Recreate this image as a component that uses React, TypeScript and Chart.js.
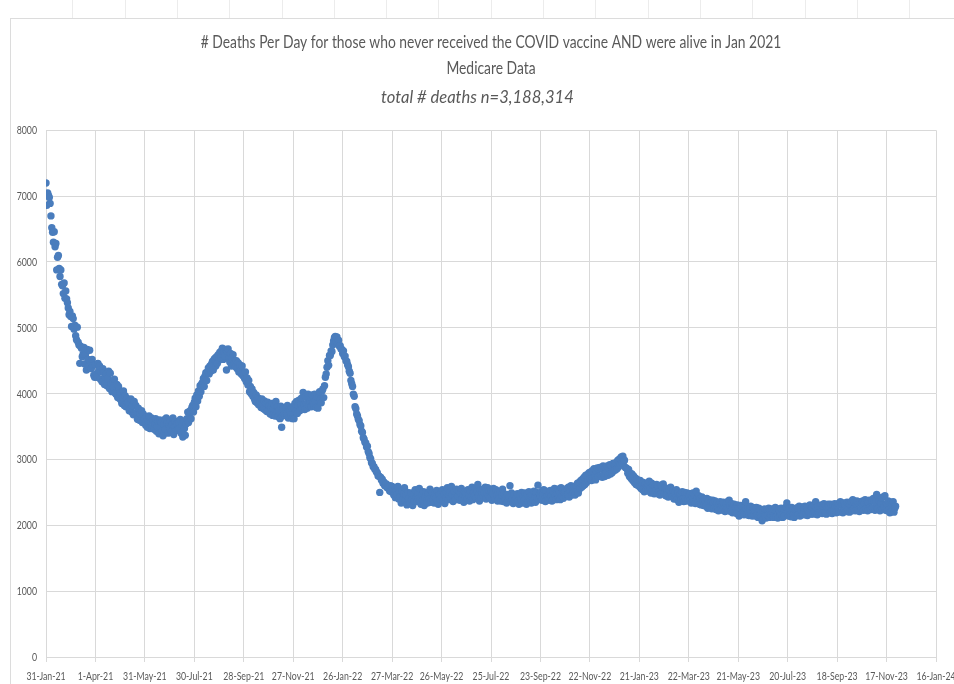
import React, { useEffect, useRef } from "react";
import { Chart, registerables } from "chart.js";

Chart.register(...registerables);

// ---- Text ----
const titleLines = [
  "# Deaths Per Day for those who never received the COVID vaccine AND were alive in Jan 2021",
  "Medicare Data",
];
const subtitleText = "total # deaths n=3,188,314";

// ---- Axes ----
// x axis: days since 31-Jan-21, a tick every 60 days
const xTickLabels = [
  "31-Jan-21", "1-Apr-21", "31-May-21", "30-Jul-21", "28-Sep-21", "27-Nov-21",
  "26-Jan-22", "27-Mar-22", "26-May-22", "25-Jul-22", "23-Sep-22", "22-Nov-22",
  "21-Jan-23", "22-Mar-23", "21-May-23", "20-Jul-23", "18-Sep-23", "17-Nov-23",
  "16-Jan-24",
];
const xTickStepDays = 60;
const yMin = 0;
const yMax = 8000;
const yStep = 1000;

// ---- Daily deaths, one value per day starting 31-Jan-21 ----
// 31-Jan-21 .. 5-Jan-22
const deathsFirstYear = [
  7200, 6860, 7050, 7010, 6980, 6890, 6700, 6520, 6450, 6300,
  6460, 6230, 6280, 5880, 6070, 6100, 5900, 5780, 5880, 5660,
  5640, 5520, 5680, 5450, 5560, 5440, 5380, 5300, 5200, 5250,
  5170, 5020, 5180, 5140, 4980, 5040, 4880, 4820, 5010, 4780,
  4740, 4460, 4720, 4690, 4560, 4600, 4700, 4450, 4600, 4360,
  4670, 4520, 4410, 4660, 4480, 4380, 4520, 4430, 4280, 4250,
  4440, 4300, 4250, 4460, 4350, 4420, 4220, 4330, 4180, 4380,
  4320, 4140, 4250, 4300, 4120, 4230, 4340, 4080, 4310, 4160,
  4030, 4180, 4090, 4220, 4010, 3990, 4140, 3940, 4110, 3930,
  4020, 3900, 3850, 3940, 4040, 3820, 3970, 3800, 3930, 3860,
  3880, 3740, 3900, 3920, 3720, 3820, 3680, 3880, 3700, 3820,
  3720, 3610, 3780, 3600, 3700, 3590, 3740, 3560, 3690, 3600,
  3620, 3520, 3650, 3490, 3590, 3660, 3470, 3580, 3630, 3480,
  3590, 3460, 3540, 3620, 3430, 3500, 3580, 3390, 3600, 3480,
  3560, 3430, 3360, 3530, 3610, 3460, 3630, 3550, 3400, 3520,
  3470, 3590, 3420, 3530, 3630, 3380, 3500, 3580, 3440, 3540,
  3450, 3560, 3470, 3610, 3400, 3520, 3340, 3580, 3470, 3370,
  3540, 3620, 3720, 3560, 3680, 3740, 3620, 3790, 3820, 3720,
  3870, 3930, 3800, 3980, 3890, 4040, 3960, 4120, 4030, 4150,
  4170, 4230, 4110, 4270, 4320, 4200, 4330, 4390, 4300, 4420,
  4340, 4450, 4490, 4360, 4520, 4540, 4420, 4560, 4460, 4590,
  4510, 4630, 4540, 4650, 4690, 4520, 4640, 4570, 4670, 4360,
  4640, 4680, 4530, 4480, 4610, 4420, 4540, 4590, 4450, 4500,
  4410, 4500, 4380, 4470, 4330, 4440, 4350, 4300, 4420, 4270,
  4300, 4230, 4330, 4180, 4240, 4130, 4200, 4030, 4110, 4000,
  4070, 3960, 4020, 3920, 3880, 3980, 3860, 3940, 3830, 3920,
  3880, 3790, 3920, 3820, 3770, 3890, 3750, 3850, 3730, 3870,
  3740, 3820, 3690, 3790, 3850, 3670, 3770, 3830, 3660, 3880,
  3720, 3800, 3650, 3740, 3620, 3810, 3490, 3660, 3780, 3690,
  3670, 3770, 3700, 3820, 3630, 3760, 3740, 3680, 3790, 3620,
  3800, 3620, 3850, 3730, 3880, 3700, 3820, 3900, 3740, 3850,
  3930, 3780, 4020, 3830, 3760, 3950, 3850, 3780, 3990, 3820,
  3890, 3950, 3800, 3980, 3860, 3810, 3990, 3880, 3790, 3950,
  3780, 3970, 4030, 3910, 3860, 4040, 4070, 3940, 4120, 4250,
];

// 6-Jan-22 .. 26-Mar-22 (Omicron wave)
const deathsOmicron = [
  4300, 4400, 4500, 4430, 4580, 4580, 4650, 4640, 4740, 4800,
  4850, 4870, 4800, 4860, 4760, 4810, 4720, 4730, 4680, 4670,
  4610, 4650, 4560, 4570, 4500, 4490, 4440, 4410, 4340, 4310,
  4200, 4150, 4110, 3990, 3960, 3800, 3770, 3690, 3660, 3610,
  3590, 3530, 3510, 3430, 3410, 3330, 3310, 3260, 3250, 3190,
  3200, 3120, 3090, 3030, 3010, 2950, 2940, 2890, 2890, 2850,
  2850, 2810, 2800, 2750, 2750, 2500, 2730, 2690, 2700, 2640,
  2660, 2600, 2620, 2630, 2570, 2580, 2590, 2520, 2600, 2510,
];

// 27-Mar-22 .. 1-Nov-22
const deathsPlateau2022 = [
  2590, 2560, 2460, 2540, 2420, 2530, 2470, 2590, 2400, 2510,
  2440, 2340, 2520, 2390, 2480, 2570, 2370, 2460, 2310, 2500,
  2400, 2350, 2330, 2490, 2390, 2300, 2460, 2370, 2540, 2420,
  2360, 2480, 2400, 2560, 2380, 2320, 2450, 2390, 2510, 2300,
  2420, 2500, 2370, 2340, 2480, 2400, 2550, 2350, 2440, 2500,
  2390, 2340, 2480, 2410, 2530, 2370, 2320, 2460, 2400, 2510,
  2430, 2540, 2380, 2480, 2330, 2420, 2500, 2570, 2390, 2450,
  2500, 2410, 2590, 2470, 2360, 2520, 2420, 2390, 2550, 2460,
  2440, 2520, 2380, 2490, 2560, 2400, 2470, 2350, 2510, 2420,
  2490, 2400, 2540, 2450, 2370, 2520, 2430, 2580, 2390, 2500,
  2450, 2560, 2410, 2520, 2620, 2460, 2370, 2540, 2420, 2500,
  2550, 2430, 2500, 2580, 2400, 2490, 2570, 2440, 2530, 2420,
  2520, 2380, 2490, 2560, 2430, 2400, 2540, 2460, 2370, 2500,
  2410, 2510, 2370, 2460, 2550, 2360, 2480, 2400, 2450, 2340,
  2470, 2380, 2430, 2600, 2360, 2490, 2400, 2330, 2460, 2390,
  2420, 2350, 2480, 2370, 2320, 2460, 2390, 2500, 2340, 2450,
  2380, 2490, 2410, 2320, 2470, 2360, 2510, 2390, 2450, 2340,
  2460, 2380, 2520, 2410, 2350, 2500, 2420, 2610, 2390, 2480,
  2430, 2510, 2380, 2470, 2540, 2400, 2360, 2520, 2440, 2380,
  2480, 2400, 2530, 2440, 2370, 2520, 2410, 2560, 2450, 2390,
  2490, 2550, 2420, 2510, 2390, 2570, 2440, 2530, 2410, 2500,
  2520, 2440, 2560, 2470, 2580, 2430, 2530, 2600, 2460, 2570,
];

// 2-Nov-22 .. 30-Mar-23 (winter wave)
const deathsWinter = [
  2500, 2590, 2460, 2600, 2510, 2640, 2490, 2650, 2560, 2680,
  2580, 2700, 2600, 2730, 2620, 2760, 2650, 2770, 2680, 2800,
  2700, 2810, 2680, 2830, 2720, 2860, 2730, 2690, 2820, 2870,
  2740, 2850, 2880, 2750, 2870, 2730, 2900, 2780, 2740, 2880,
  2790, 2900, 2760, 2870, 2920, 2780, 2910, 2800, 2940, 2830,
  2920, 2840, 2960, 2860, 2990, 2890, 3010, 2920, 3040, 2950,
  3050, 2970, 2990, 2880, 2870, 2860, 2790, 2850, 2740, 2790,
  2710, 2780, 2680, 2750, 2650, 2720, 2620, 2700, 2610, 2680,
  2590, 2680, 2560, 2640, 2540, 2650, 2510, 2630, 2530, 2610,
  2630, 2520, 2670, 2560, 2490, 2640, 2530, 2610, 2480, 2590,
  2530, 2620, 2480, 2590, 2510, 2460, 2610, 2500, 2580, 2630,
  2480, 2570, 2450, 2560, 2470, 2430, 2550, 2440, 2580, 2460,
  2440, 2530, 2400, 2510, 2420, 2540, 2390, 2490, 2350, 2470,
  2480, 2390, 2510, 2400, 2360, 2500, 2410, 2370, 2490, 2390,
  2460, 2370, 2480, 2340, 2440, 2490, 2360, 2460, 2330, 2520,
];

// 31-Mar-23 .. 28-Nov-23
const deaths2023 = [
  2420, 2340, 2450, 2320, 2410, 2310, 2430, 2380, 2300, 2400,
  2380, 2290, 2410, 2260, 2370, 2390, 2280, 2360, 2250, 2380,
  2350, 2260, 2370, 2240, 2340, 2270, 2220, 2330, 2360, 2250,
  2320, 2230, 2350, 2250, 2210, 2340, 2240, 2360, 2220, 2380,
  2300, 2210, 2330, 2190, 2290, 2320, 2200, 2280, 2180, 2310,
  2270, 2140, 2270, 2300, 2170, 2290, 2190, 2160, 2280, 2360,
  2250, 2160, 2280, 2150, 2250, 2290, 2170, 2140, 2270, 2160,
  2230, 2140, 2270, 2160, 2120, 2260, 2150, 2240, 2130, 2070,
  2230, 2130, 2250, 2140, 2110, 2240, 2150, 2260, 2120, 2230,
  2160, 2250, 2140, 2120, 2240, 2270, 2130, 2230, 2110, 2250,
  2230, 2130, 2260, 2150, 2120, 2250, 2140, 2240, 2280, 2340,
  2180, 2140, 2260, 2160, 2130, 2270, 2150, 2250, 2120, 2240,
  2250, 2150, 2270, 2160, 2290, 2140, 2260, 2170, 2280, 2160,
  2260, 2290, 2160, 2270, 2150, 2280, 2180, 2310, 2170, 2270,
  2280, 2170, 2300, 2190, 2360, 2270, 2160, 2290, 2190, 2300,
  2200, 2310, 2180, 2290, 2330, 2190, 2300, 2170, 2280, 2320,
  2290, 2190, 2320, 2210, 2180, 2310, 2200, 2330, 2290, 2190,
  2300, 2330, 2200, 2310, 2360, 2210, 2320, 2190, 2340, 2230,
  2310, 2210, 2350, 2230, 2330, 2200, 2320, 2360, 2220, 2390,
  2250, 2350, 2220, 2330, 2370, 2230, 2340, 2210, 2360, 2250,
  2330, 2370, 2230, 2340, 2390, 2250, 2360, 2220, 2350, 2380,
  2270, 2240, 2380, 2260, 2410, 2360, 2230, 2350, 2470, 2260,
  2250, 2370, 2220, 2340, 2420, 2240, 2430, 2280, 2450, 2230,
  2330, 2220, 2370, 2240, 2190, 2350, 2210, 2320, 2360, 2200,
  2260, 2290,
];

const dailyDeaths = [
  ...deathsFirstYear,
  ...deathsOmicron,
  ...deathsPlateau2022,
  ...deathsWinter,
  ...deaths2023,
];

const FONT = "Lato, 'Open Sans', sans-serif";
const TEXT_COLOR = "#595959";
const GRID_COLOR = "#d9d9d9";
const POINT_COLOR = "#4a7dbd";
const TITLE_SCALE_X = 0.77;
const SUBTITLE_SCALE_X = 0.92;
const TICK_SCALE_X = 0.73;

// Draw the chart's text horizontally condensed (the original uses a narrow font).
const condensedTextPlugin = {
  id: "condensedText",
  beforeDraw(chart: any) {
    const ctx: any = chart.ctx;
    if (ctx.__condensed) return;
    const orig = CanvasRenderingContext2D.prototype.fillText;
    ctx.fillText = function (text: string, x: number, y: number, maxWidth?: number) {
      const font: string = ctx.font;
      const m = /(\d+(?:\.\d+)?)px/.exec(font);
      const size = m ? parseFloat(m[1]) : 12;
      const sx = size < 15 ? TICK_SCALE_X : font.indexOf("italic") >= 0 ? SUBTITLE_SCALE_X : TITLE_SCALE_X;
      ctx.save();
      ctx.translate(x, y);
      ctx.scale(sx, 1);
      if (maxWidth == null) orig.call(ctx, text, 0, 0);
      else orig.call(ctx, text, 0, 0, maxWidth / sx);
      ctx.restore();
    };
    ctx.__condensed = true;
  },
};

export default function App() {
  const canvasRef = useRef<HTMLCanvasElement | null>(null);

  useEffect(() => {
    const canvas = canvasRef.current;
    if (!canvas) return;
    const points = dailyDeaths.map((v, i) => ({ x: i, y: v }));
    const xMax = (xTickLabels.length - 1) * xTickStepDays;

    const chart = new Chart(canvas, {
      type: "scatter",
      data: {
        datasets: [
          {
            data: points,
            pointRadius: 3.7,
            pointBackgroundColor: POINT_COLOR,
            pointBorderWidth: 0,
            pointHoverRadius: 3.7,
          },
        ],
      },
      plugins: [condensedTextPlugin],
      options: {
        animation: false,
        responsive: false,
        maintainAspectRatio: false,
        events: [],
        layout: { padding: { left: 0, right: 18, top: 0, bottom: 0 } },
        plugins: {
          legend: { display: false },
          tooltip: { enabled: false },
          title: {
            display: true,
            fullSize: false,
            text: titleLines,
            color: TEXT_COLOR,
            font: { family: FONT, size: 18, weight: "normal", lineHeight: 1.45 },
            padding: { top: 29, bottom: 3 },
          },
          subtitle: {
            display: true,
            fullSize: false,
            // trailing no-break spaces nudge the centred line slightly left, as in the original
            text: subtitleText + "\u00a0\u00a0\u00a0\u00a0\u00a0\u00a0\u00a0",
            color: TEXT_COLOR,
            font: { family: FONT, size: 18, style: "italic", weight: "normal", lineHeight: 1.45 },
            padding: { top: 0, bottom: 20 },
          },
        },
        scales: {
          x: {
            type: "linear",
            min: 0,
            max: xMax,
            afterBuildTicks: (scale: any) => {
              scale.ticks = xTickLabels.map((_, i) => ({ value: i * xTickStepDays }));
            },
            afterFit: (scale: any) => {
              scale.height = 27;
              scale.paddingLeft = 0;
              scale.paddingRight = 0;
            },
            ticks: {
              autoSkip: false,
              maxRotation: 0,
              minRotation: 0,
              padding: 7,
              color: TEXT_COLOR,
              font: { family: FONT, size: 12 },
              callback: (value: any) => xTickLabels[Math.round(Number(value) / xTickStepDays)] ?? "",
            },
            grid: { color: GRID_COLOR, lineWidth: 1, drawTicks: true, tickLength: 5, tickColor: GRID_COLOR },
            border: { color: GRID_COLOR, width: 1 },
          },
          y: {
            min: yMin,
            max: yMax,
            afterFit: (scale: any) => {
              scale.width = 46;
            },
            ticks: {
              stepSize: yStep,
              padding: 9,
              color: TEXT_COLOR,
              font: { family: FONT, size: 12 },
              callback: (value: any) => String(value),
            },
            grid: { color: GRID_COLOR, lineWidth: 1, drawTicks: false },
            border: { color: GRID_COLOR, width: 1 },
          },
        },
      },
    });

    return () => chart.destroy();
  }, []);

  return (
    <div style={{ position: "fixed", left: 0, top: 0, width: 954, height: 684, background: "#fff", overflow: "hidden" }}>
      <div
        style={{
          position: "absolute",
          left: 21,
          top: 0,
          width: 933,
          height: 18,
          backgroundImage:
            "repeating-linear-gradient(90deg, transparent 0px, transparent 51.3px, #ececec 51.3px, #ececec 52.3px)",
        }}
      />
      <div
        style={{
          position: "absolute",
          left: 10,
          top: 18,
          width: 944,
          height: 666,
          borderLeft: "1px solid #dcdcdc",
          borderTop: "1px solid #dcdcdc",
          boxSizing: "border-box",
        }}
      />
      <canvas ref={canvasRef} width={954} height={684} style={{ position: "absolute", left: 0, top: 0, display: "block" }} />
    </div>
  );
}
